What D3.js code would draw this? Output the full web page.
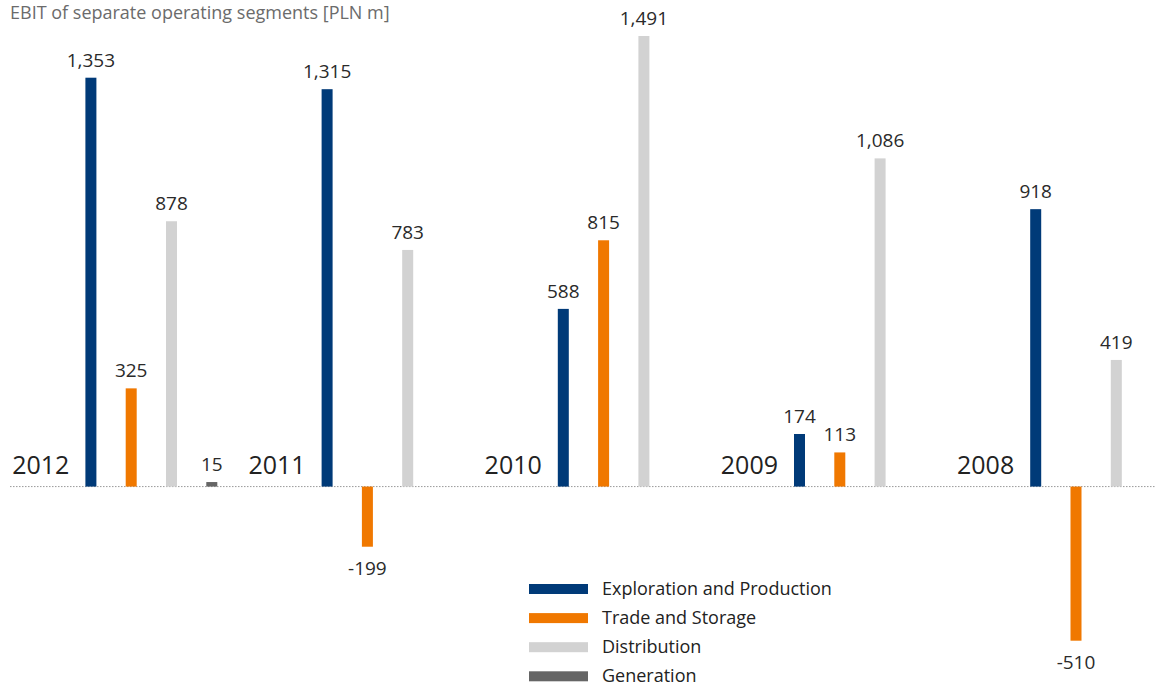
<html>

<head>
  <meta charset="utf-8">
  <script src="https://d3js.org/d3.v7.min.js"></script>
  <style>
    body {
      margin: 0;
      background: #fff;
    }

    text {
      font-family: "Open Sans", "Noto Sans", sans-serif;
    }

    .baseline {
      stroke: #999;
      stroke-width: 1;
      stroke-dasharray: 1.5, 1.5;
    }
  </style>
</head>

<body>
  <svg width="1155" height="687" id="chart"></svg>
  <script>
    const years = ["2012", "2011", "2010", "2009", "2008"];
    const seriesNames = ["Exploration and Production", "Trade and Storage", "Distribution", "Generation"];
    const explorationValues = [1353, 1315, 588, 174, 918];
    const tradeValues = [325, -199, 815, 113, -510];
    const distributionValues = [878, 783, 1491, 1086, 419];
    const generationValues = [15, null, null, null, null];
    const seriesColors = ["#003a78", "#f07800", "#d2d2d2", "#656565"];

    const allSeries = [explorationValues, tradeValues, distributionValues, generationValues];

    // flatten to one record per bar
    const bars = [];
    years.forEach((year, i) => {
      allSeries.forEach((values, s) => {
        if (values[i] !== null) {
          bars.push({ year: year, series: seriesNames[s], value: values[i], color: seriesColors[s] });
        }
      });
    });

    const svg = d3.select("svg#chart");
    const width = +svg.attr("width");

    const yScale = d3.scaleLinear().domain([-510, 1491]).range([640.7, 36]);
    const yearScale = d3.scalePoint().domain(years).range([85.4, 1030.2]);
    const seriesScale = d3.scaleBand().domain(seriesNames).range([0, 131.9])
      .paddingInner(0.727).paddingOuter(0);

    // source uses a plain hyphen for negatives
    const fmt = v => d3.format(",")(v).replace("\u2212", "-");

    svg.append("text")
      .attr("x", 10)
      .attr("y", 19)
      .attr("fill", "#6b6b6b")
      .style("font-size", "18px")
      .text("EBIT of separate operating segments [PLN m]");

    // dotted zero line
    svg.append("line")
      .attr("class", "baseline")
      .attr("x1", 10)
      .attr("x2", width)
      .attr("y1", yScale(0))
      .attr("y2", yScale(0));

    // bars
    svg.selectAll("rect.bar").data(bars)
      .join("rect").attr("class", "bar")
      .attr("x", d => yearScale(d.year) + seriesScale(d.series))
      .attr("y", d => yScale(Math.max(0, d.value)))
      .attr("width", seriesScale.bandwidth())
      .attr("height", d => Math.abs(yScale(d.value) - yScale(0)))
      .attr("fill", d => d.color);

    // value labels
    svg.selectAll("text.value").data(bars)
      .join("text").attr("class", "value")
      .attr("x", d => yearScale(d.year) + seriesScale(d.series) + seriesScale.bandwidth() / 2)
      .attr("y", d => d.value >= 0 ? yScale(d.value) - 11 : yScale(d.value) + 28)
      .attr("text-anchor", "middle")
      .attr("fill", "#2a2a2a")
      .style("font-size", "19px")
      .text(d => fmt(d.value));

    // year labels sit just left of each group
    svg.selectAll("text.year").data(years)
      .join("text").attr("class", "year")
      .attr("x", d => yearScale(d) - 16)
      .attr("y", yScale(0) - 13)
      .attr("text-anchor", "end")
      .attr("fill", "#222")
      .style("font-size", "25px")
      .text(d => d);

    // legend
    const legend = svg.append("g").attr("transform", "translate(529,589)");
    const rows = legend.selectAll("g.row").data(seriesNames)
      .join("g").attr("class", "row")
      .attr("transform", (d, i) => `translate(0,${i * 29.1})`);
    rows.append("rect")
      .attr("x", 0)
      .attr("y", -5)
      .attr("width", 59)
      .attr("height", 10)
      .attr("fill", (d, i) => seriesColors[i]);
    rows.append("text")
      .attr("x", 73)
      .attr("y", 5.5)
      .attr("fill", "#222")
      .style("font-size", "18px")
      .text(d => d);
  </script>
</body>

</html>
